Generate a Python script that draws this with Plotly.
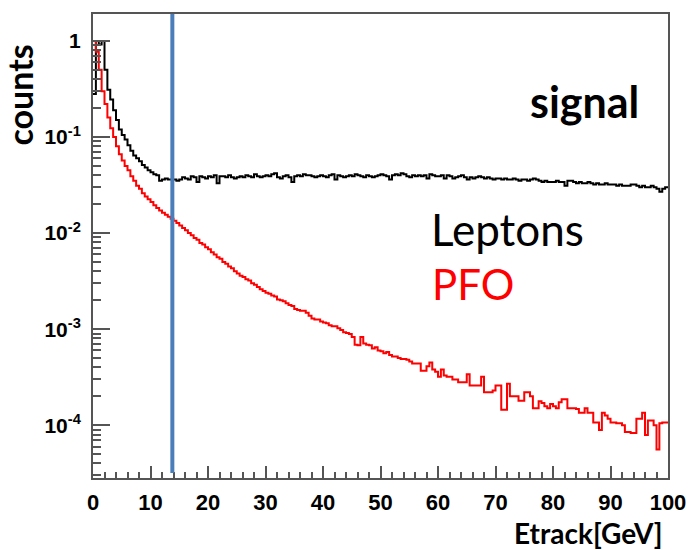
import numpy as np
import plotly.graph_objects as go

# ---------------- data ----------------
bin_width = 0.5  # GeV, 200 bins from 0 to 100

leptons = [
    0.28, 1.0, 0.92, 1.0, 0.50, 0.31, 0.245, 0.19, 0.15, 0.12,
    0.105, 0.094, 0.082, 0.072, 0.064, 0.060, 0.056, 0.051, 0.048, 0.045,
    0.043, 0.041, 0.040, 0.035, 0.036, 0.037, 0.036,
    0.036, 0.036, 0.035, 0.036, 0.038, 0.037, 0.036, 0.039, 0.038, 0.034, 0.039, 0.038, 0.037,
    0.039, 0.038, 0.040, 0.033, 0.039, 0.039, 0.038, 0.040, 0.038, 0.037,
    0.038, 0.039, 0.038, 0.040, 0.039, 0.038, 0.041, 0.039, 0.038, 0.039,
    0.040, 0.039, 0.041, 0.042, 0.038, 0.037, 0.039, 0.040, 0.038, 0.034,
    0.039, 0.040, 0.039, 0.041, 0.040, 0.040, 0.039, 0.038, 0.039, 0.040,
    0.039, 0.038, 0.040, 0.041, 0.036, 0.040, 0.039, 0.038, 0.039, 0.040,
    0.039, 0.041, 0.040, 0.039, 0.038, 0.040, 0.039, 0.038, 0.039, 0.040,
    0.041, 0.040, 0.039, 0.036, 0.040, 0.041, 0.040, 0.042, 0.041, 0.039,
    0.038, 0.040, 0.039, 0.040, 0.039, 0.040, 0.037, 0.041, 0.040, 0.039,
    0.039, 0.040, 0.037, 0.040, 0.039, 0.037, 0.038, 0.039, 0.040, 0.038,
    0.036, 0.038, 0.037, 0.038, 0.039, 0.038, 0.037, 0.038, 0.037, 0.036,
    0.037, 0.037, 0.036, 0.037, 0.036, 0.036, 0.037, 0.036, 0.035, 0.036,
    0.036, 0.035, 0.036, 0.037, 0.036, 0.035, 0.034, 0.035, 0.034, 0.034,
    0.034, 0.035, 0.034, 0.034, 0.031, 0.035, 0.035, 0.034, 0.033, 0.034,
    0.033, 0.033, 0.034, 0.033, 0.032, 0.033, 0.032, 0.032, 0.033, 0.032,
    0.032, 0.032, 0.031, 0.032, 0.031, 0.031, 0.031, 0.032, 0.032, 0.031,
    0.030, 0.031, 0.030, 0.030, 0.031, 0.030, 0.029, 0.027, 0.029, 0.030,
]

pfo = [
    1.0, 0.77, 0.50, 0.30, 0.22, 0.16, 0.123, 0.100, 0.080, 0.066,
    0.057, 0.050, 0.045, 0.039, 0.035, 0.031, 0.029, 0.026, 0.024, 0.0225,
    0.021, 0.0195, 0.0182, 0.0172, 0.0163, 0.0155, 0.0148, 0.0141, 0.0134, 0.0127,
    0.0120, 0.0113, 0.0107, 0.0100, 0.0095, 0.0089, 0.0085, 0.0079, 0.0076, 0.0071,
    0.0068, 0.0063, 0.0060, 0.0056, 0.0054, 0.0050, 0.0048, 0.0045, 0.0043, 0.0040,
    0.0038, 0.0036, 0.0035, 0.0033, 0.0032, 0.0030, 0.0029, 0.00275, 0.0026, 0.0025,
    0.0024, 0.00234, 0.00224, 0.00219, 0.00204, 0.0020, 0.00195, 0.00186, 0.00178, 0.00174,
    0.00162, 0.00158, 0.00155, 0.00155, 0.00148, 0.00138, 0.00129, 0.00126, 0.00126, 0.0012,
    0.00117, 0.00115, 0.0011, 0.00107, 0.00107, 0.00102, 0.00098, 0.00093, 0.00091, 0.00089,
    0.00083, 0.00069, 0.00068, 0.00083, 0.00071, 0.00069, 0.00068, 0.00063, 0.00065, 0.0006,
    0.00059, 0.00056, 0.00058, 0.00054, 0.00052, 0.00052, 0.0005, 0.00049, 0.00049, 0.00048,
    0.00046, 0.00044, 0.00044, 0.00044, 0.00037, 0.00037, 0.00041, 0.00045, 0.00038, 0.00036,
    0.00032, 0.00038, 0.00033, 0.00032, 0.00032, 0.0003, 0.0003, 0.00028, 0.00028, 0.00028,
    0.00034, 0.00026, 0.00026, 0.00026, 0.00026, 0.00032, 0.00022, 0.00022, 0.00022, 0.00023,
    0.00026, 0.00026, 0.000145, 0.000145, 0.00027, 0.0002, 0.0002, 0.0002, 0.00018, 0.00018,
    0.00022, 0.00022, 0.0002, 0.00015, 0.00015, 0.000178, 0.00017, 0.000158, 0.00015, 0.000166,
    0.000158, 0.00015, 0.000174, 0.000186, 0.000186, 0.00015, 0.00015, 0.00015, 0.000148, 0.000135,
    0.000135, 0.00015, 0.000135, 0.000135, 0.000107, 0.000107, 0.000089, 0.000135, 0.000126, 0.000117,
    0.000107, 0.000107, 0.000105, 0.000105, 0.0001, 0.000085, 0.000085, 0.000083, 0.000083, 0.000117,
    0.000117, 0.000135, 0.000079, 0.000112, 0.000112, 0.0001, 0.000056, 0.000105, 0.000107, 0.000107,
]

cut_value = 13.8  # GeV, blue vertical cut line

ytick_vals = [1, 1e-1, 1e-2, 1e-3, 1e-4]
ytick_text = ["1", "10<sup>-1</sup>", "10<sup>-2</sup>", "10<sup>-3</sup>", "10<sup>-4</sup>"]
xtick_vals = [0, 10, 20, 30, 40, 50, 60, 70, 80, 90, 100]

assert len(leptons) == 200 and len(pfo) == 200

edges = np.arange(len(pfo) + 1) * bin_width


def step(vals):
    return list(edges), list(vals) + [vals[-1]]


fig = go.Figure()
lx, ly = step(leptons)
fig.add_trace(go.Scatter(x=lx, y=ly, mode="lines", line=dict(color="black", width=2, shape="hv"),
                         showlegend=False, hoverinfo="skip"))
px_, py_ = step(pfo)
fig.add_trace(go.Scatter(x=px_, y=py_, mode="lines", line=dict(color="#ff0000", width=2, shape="hv"),
                         showlegend=False, hoverinfo="skip"))

fig.add_shape(type="line", xref="x", yref="paper", x0=cut_value, x1=cut_value, y0=0.011, y1=1,
              line=dict(color="#4a7ebb", width=4))

minor_y = [m * 10.0 ** e for e in range(-5, 1) for m in range(2, 10)]

axis_col = "#555555"
fig.update_layout(
    width=698, height=550,
    margin=dict(l=93, r=25, t=12, b=72),
    paper_bgcolor="white", plot_bgcolor="white",
    xaxis=dict(range=[0, 100], showgrid=False, zeroline=False,
               showline=True, linecolor=axis_col, linewidth=2, mirror=True,
               tickvals=xtick_vals, ticks="inside", ticklen=12, tickwidth=1.5, tickcolor=axis_col,
               minor=dict(ticks="inside", dtick=2, ticklen=6, tickwidth=1.5, tickcolor=axis_col),
               tickfont=dict(family="Liberation Sans", size=22, color="black", weight="bold"),
               ticklabelstandoff=4),
    yaxis=dict(type="log", range=[-4.549, 0.28], showgrid=False, zeroline=False,
               showline=True, linecolor=axis_col, linewidth=2, mirror=True,
               tickvals=ytick_vals, ticktext=ytick_text,
               ticks="inside", ticklen=17, tickwidth=1.5, tickcolor=axis_col,
               minor=dict(ticks="inside", tickvals=minor_y, ticklen=8, tickwidth=1.5, tickcolor=axis_col),
               tickfont=dict(family="Liberation Sans", size=21, color="black", weight="bold"),
               ticklabelstandoff=6),
)

ann_font = "Lato"
fig.add_annotation(text="<b>signal</b>", xref="paper", yref="paper", x=0.855, y=0.811,
                   xanchor="center", yanchor="middle", showarrow=False,
                   font=dict(family=ann_font, size=43, color="black"))
fig.add_annotation(text="Leptons", xref="paper", yref="paper", x=0.584, y=0.536,
                   xanchor="left", yanchor="middle", showarrow=False,
                   font=dict(family=ann_font, size=44, color="black"))
fig.add_annotation(text="PFO", xref="paper", yref="paper", x=0.586, y=0.418,
                   xanchor="left", yanchor="middle", showarrow=False,
                   font=dict(family=ann_font, size=42, color="#ff0000"))
fig.add_annotation(text="<b>counts</b>", xref="paper", yref="paper", x=-0.128, y=0.825,
                   xanchor="center", yanchor="middle", showarrow=False, textangle=-90,
                   font=dict(family=ann_font, size=34, color="black"))
fig.add_annotation(text="<b>Etrack[GeV]</b>", xref="paper", yref="paper", x=0.86, y=-0.118,
                   xanchor="center", yanchor="middle", showarrow=False,
                   font=dict(family=ann_font, size=28, color="black"))

fig.write_html("out.html")
